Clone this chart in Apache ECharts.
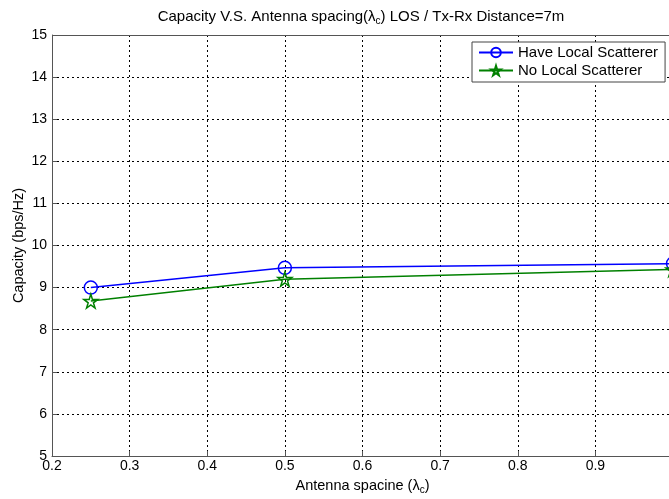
<!DOCTYPE html>
<html><head><meta charset="utf-8">
<script src="https://cdn.jsdelivr.net/npm/echarts@6/dist/echarts.min.js"></script>
<style>html,body{margin:0;padding:0;background:#fff}#c{width:669px;height:499px}</style>
</head><body><div id="c"></div>
<script>
const spacing = [0.25, 0.5, 1.0];
const haveLocal = [9.0, 9.47, 9.57];
const noLocal = [8.68, 9.2, 9.43];
const xTicks = [0.2, 0.3, 0.4, 0.5, 0.6, 0.7, 0.8, 0.9, 1];
const yTicks = [5, 6, 7, 8, 9, 10, 11, 12, 13, 14, 15];
const seriesNames = ['Have Local Scatterer', 'No Local Scatterer'];

const FONT = 'Liberation Sans, Arial, sans-serif';
const star = 'path://M50,0 L61,35 L98,35 L68,57 L79,91 L50,70 L21,91 L32,57 L2,35 L39,35 Z';
const chart = echarts.init(document.getElementById('c'));
const sub = {fontSize: 10, fontFamily: FONT, color: '#000', padding: [8, 0, 0, 0]};
chart.setOption({
  animation: false,
  backgroundColor: '#fff',
  title: {
    text: 'Capacity V.S. Antenna spacing(λ{s|c}) LOS / Tx-Rx Distance=7m',
    left: 356, textAlign: 'center', top: 3,
    textStyle: {fontSize: 15, fontWeight: 'normal', fontFamily: FONT, color: '#000',
      rich: {s: sub}}
  },
  legend: {
    left: 472, top: 42, orient: 'vertical',
    backgroundColor: '#fff', borderColor: '#444', borderWidth: 1, borderRadius: 0,
    padding: [3, 7, 4, 6], itemGap: 3, itemWidth: 34, itemHeight: 12,
    textStyle: {fontSize: 15, fontFamily: FONT, color: '#000'},
    data: seriesNames
  },
  grid: {left: 52, top: 35, width: 621, bottom: 43, outerBoundsMode: 'none', containLabel: false},
  xAxis: {
    type: 'value', min: 0.2, max: 1, interval: 0.1,
    name: 'Antenna spacine (λ{s|c})', nameLocation: 'middle', nameGap: 21,
    nameMoveOverlap: false,
    nameTextStyle: {fontSize: 14.5, fontFamily: FONT, color: '#000', rich: {s: sub}},
    axisLine: {show: true, lineStyle: {color: '#555'}},
    axisTick: {show: true, inside: true, length: 5, lineStyle: {color: '#555'}},
    axisLabel: {fontSize: 14, fontFamily: FONT, color: '#000', margin: 3,
      formatter: v => xTicks.find(t => Math.abs(t - v) < 1e-6) !== undefined ? String(+v.toFixed(1)) : ''},
    splitLine: {show: true, lineStyle: {color: '#000', type: [2, 3], width: 1}}
  },
  yAxis: {
    type: 'value', min: 5, max: 15, interval: 1,
    name: 'Capacity (bps/Hz)', nameLocation: 'middle', nameGap: 26,
    nameMoveOverlap: false,
    nameTextStyle: {fontSize: 14.5, fontFamily: FONT, color: '#000'},
    axisLine: {show: true, lineStyle: {color: '#555'}},
    axisTick: {show: true, inside: true, length: 5, lineStyle: {color: '#555'}},
    axisLabel: {fontSize: 14, fontFamily: FONT, color: '#000', margin: 5,
      formatter: v => yTicks.includes(v) ? String(v) : ''},
    splitLine: {show: true, lineStyle: {color: '#000', type: [2, 3], width: 1}}
  },
  series: [
    {
      name: seriesNames[0], type: 'line',
      data: spacing.map((x, i) => [x, haveLocal[i]]),
      symbol: 'circle', symbolSize: 13,
      lineStyle: {color: '#0000ff', width: 1.5},
      itemStyle: {color: 'rgba(255,255,255,0)', borderColor: '#0000ff', borderWidth: 1.5},
      z: 3
    },
    {
      name: seriesNames[1], type: 'line',
      data: spacing.map((x, i) => [x, noLocal[i]]),
      symbol: star, symbolSize: 14,
      lineStyle: {color: '#008000', width: 1.5},
      itemStyle: {color: 'rgba(255,255,255,0)', borderColor: '#008000', borderWidth: 1.5},
      z: 3
    }
  ],
  graphic: [{
    type: 'line', shape: {x1: 52, y1: 35.5, x2: 669, y2: 35.5},
    style: {stroke: '#555', lineWidth: 1}, z: 10
  }]
});
</script></body></html>
